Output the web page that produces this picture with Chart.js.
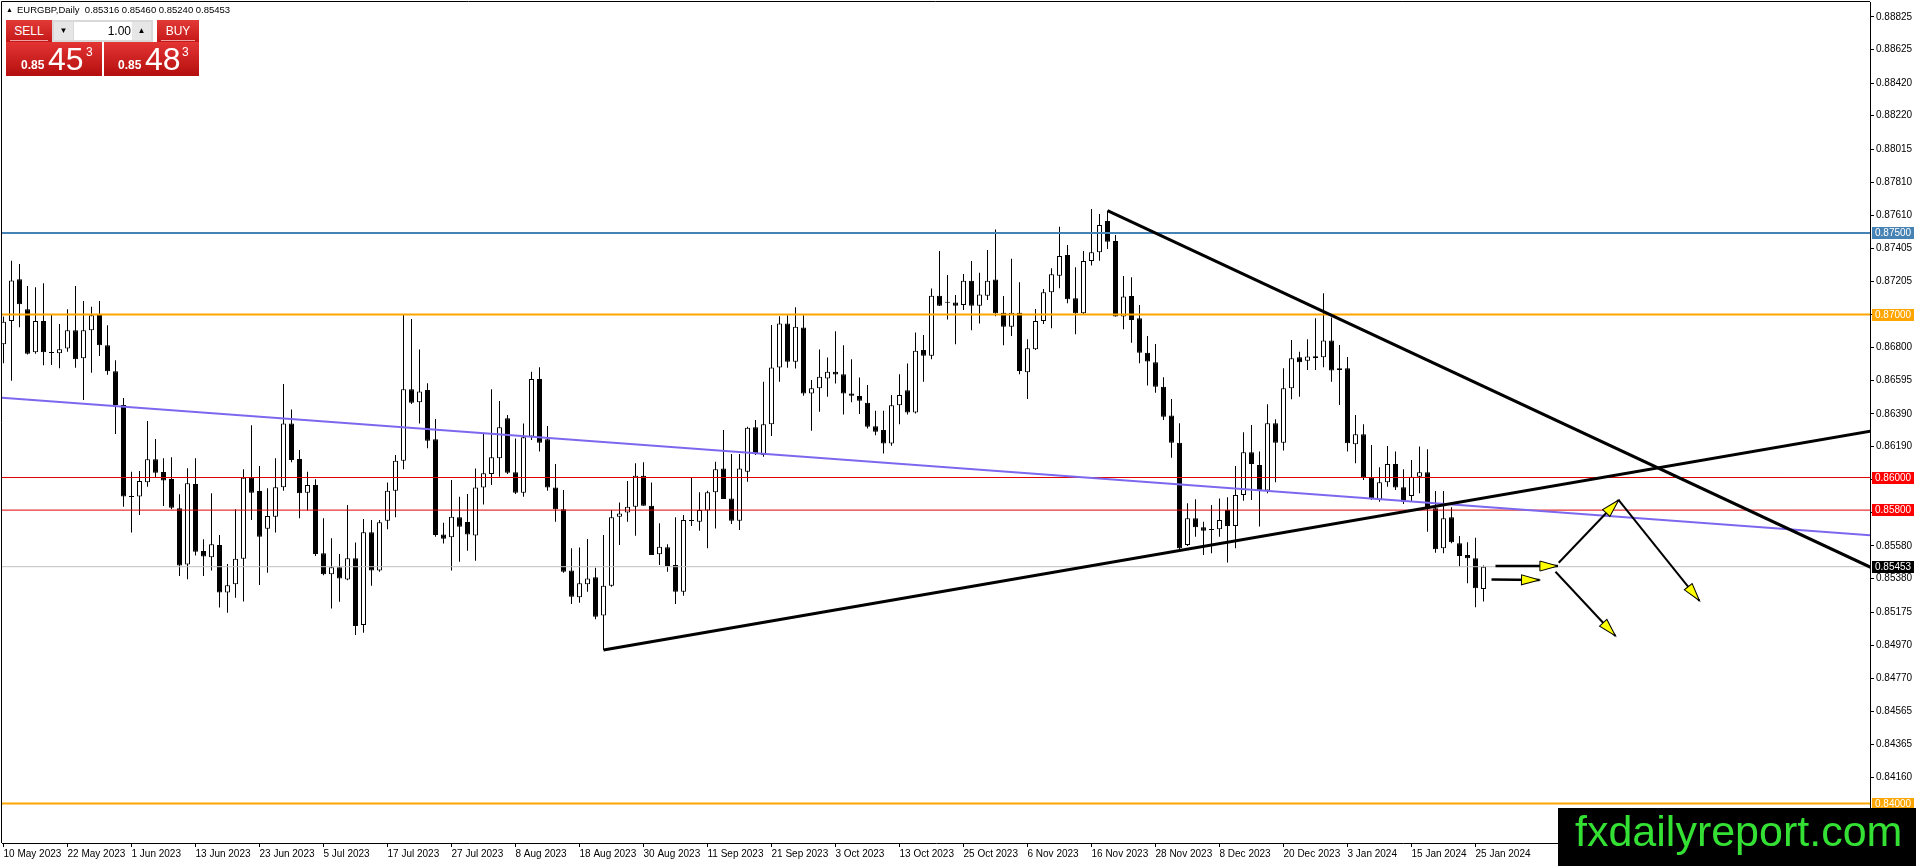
<!DOCTYPE html>
<html>
<head>
<meta charset="utf-8">
<script src="https://cdn.jsdelivr.net/npm/chart.js@4.4.1/dist/chart.umd.min.js"></script>
<style>
html, body { margin: 0; padding: 0; background: #fff; overflow: hidden; }
#wrap { position: relative; width: 1916px; height: 866px; font-family: "Liberation Sans", Arial, sans-serif; }
#chart { position: absolute; left: 0; top: 0; }
.abs { position: absolute; white-space: nowrap; }
#title { left: 6px; top: 4px; font-size: 9.5px; color: #000; line-height: 12px; }
#title .tri { font-size: 7px; margin-right: 4px; vertical-align: 1px; }
.btn { background: linear-gradient(#e23a36, #c41818); color: #fff; font-size: 12px; text-align: center; line-height: 22px; height: 22px; top: 20px; }
.btn:after { content: ""; position: absolute; left: 4px; right: 4px; bottom: 1px; height: 1px; background: rgba(255,220,220,0.7); }
.pricebox { top: 42px; height: 34px; background: linear-gradient(#e43434, #b40e0e); }
.px { color: #fff; }
.small { font-size: 12px; font-weight: bold; line-height: 12px; }
.big { font-size: 32px; line-height: 32px; }
.sup { font-size: 12px; line-height: 12px; }
#lot { left: 52px; top: 20px; width: 101px; height: 22px; background: #d9d9d9; }
#lot .b { position: absolute; top: 2px; width: 19px; height: 18px; background: #e6e6e6; font-size: 8px; line-height: 18px; text-align: center; color: #000; }
#lot .f { position: absolute; left: 22px; top: 2px; width: 57px; height: 18px; background: #fff; font-size: 12px; line-height: 18px; text-align: right; padding-right: 2px; color: #000; }
#wm { left: 1558px; top: 808px; width: 341px; height: 58px; background: #000; color: #33e033; font-size: 43px; line-height: 46px; padding-left: 17px; }
</style>
</head>
<body>
<div id="wrap">
  <canvas id="chart" width="1916" height="866"></canvas>
  <div id="title" class="abs"><span class="tri">▲</span>EURGBP,Daily&nbsp; 0.85316 0.85460 0.85240 0.85453</div>
  <div class="abs btn" style="left:6px;width:46px;">SELL</div>
  <div id="lot" class="abs"><div class="b" style="left:2px;">▼</div><div class="f">1.00</div><div class="b" style="left:80px;">▲</div></div>
  <div class="abs btn" style="left:157px;width:42px;">BUY</div>
  <div class="abs pricebox" style="left:6px;width:96px;"></div>
  <div class="abs pricebox" style="left:104px;width:95px;"></div>
  <div class="abs px small" style="left:21px;top:59px;">0.85</div>
  <div class="abs px big" style="left:48px;top:43px;">45</div>
  <div class="abs px sup" style="left:86px;top:46px;">3</div>
  <div class="abs px small" style="left:118px;top:59px;">0.85</div>
  <div class="abs px big" style="left:145px;top:43px;">48</div>
  <div class="abs px sup" style="left:182px;top:46px;">3</div>
  <div id="wm" class="abs">fxdailyreport.com</div>
</div>
<script>
// EURGBP daily candles, bar 0 = 10 May 2023 ... bar 185 = 26 Jan 2024
const opens = [
  0.86817, 0.86960, 0.87216, 0.87032, 0.86768, 0.86960, 0.86768, 0.86762, 0.86791, 0.86903,
  0.86731, 0.86903, 0.86997, 0.86811, 0.86652, 0.86445, 0.85885, 0.85883, 0.85971, 0.86112,
  0.86034, 0.85991, 0.85811, 0.85467, 0.85960, 0.85549, 0.85511, 0.85586, 0.85294, 0.85345,
  0.85502, 0.85999, 0.85917, 0.85686, 0.85760, 0.85940, 0.86332, 0.86114, 0.85907, 0.85954,
  0.85535, 0.85406, 0.85449, 0.85375, 0.85504, 0.85095, 0.85664, 0.85429, 0.85735, 0.85919,
  0.86103, 0.86541, 0.86461, 0.86537, 0.86234, 0.85651, 0.85633, 0.85756, 0.85727, 0.85645,
  0.85938, 0.86022, 0.86118, 0.86363, 0.86032, 0.85907, 0.86251, 0.86604, 0.86234, 0.85938,
  0.85805, 0.85429, 0.85265, 0.85345, 0.85388, 0.85154, 0.85336, 0.85760, 0.85786, 0.85821,
  0.86011, 0.85827, 0.85529, 0.85572, 0.85463, 0.85300, 0.85737, 0.85729, 0.85797, 0.85909,
  0.86056, 0.85872, 0.85735, 0.86036, 0.86308, 0.86138, 0.86326, 0.86675, 0.86945, 0.86710,
  0.86921, 0.86516, 0.86547, 0.86608, 0.86649, 0.86634, 0.86516, 0.86500, 0.86459, 0.86315,
  0.86291, 0.86209, 0.86444, 0.86536, 0.86399, 0.86782, 0.86747, 0.87115, 0.87076, 0.87074,
  0.87058, 0.87207, 0.87054, 0.87115, 0.87215, 0.87011, 0.86925, 0.87011, 0.86645, 0.86787,
  0.86960, 0.87136, 0.87238, 0.87365, 0.87099, 0.87007, 0.87328, 0.87382, 0.87574, 0.87451,
  0.86987, 0.87114, 0.86977, 0.86766, 0.86707, 0.86557, 0.86380, 0.86214, 0.85586, 0.85750,
  0.85695, 0.85682, 0.85682, 0.85801, 0.85703, 0.85893, 0.86155, 0.86077, 0.85920, 0.86333,
  0.86214, 0.86547, 0.86738, 0.86717, 0.86744, 0.86738, 0.86840, 0.86660, 0.86670, 0.86204,
  0.86265, 0.85999, 0.85862, 0.85971, 0.86083, 0.85940, 0.85887, 0.86005, 0.86032, 0.85811,
  0.85566, 0.85756, 0.85597, 0.85525, 0.85504, 0.85316
];
const highs = [
  0.86987, 0.87329, 0.87310, 0.87175, 0.87167, 0.87192, 0.86997, 0.86942, 0.87032, 0.87175,
  0.87083, 0.87048, 0.87083, 0.86934, 0.86719, 0.86488, 0.86036, 0.86040, 0.86347, 0.86237,
  0.86118, 0.86124, 0.85897, 0.86057, 0.86118, 0.85621, 0.85903, 0.85648, 0.85470, 0.85805,
  0.86050, 0.86320, 0.86071, 0.85934, 0.86118, 0.86574, 0.86418, 0.86169, 0.86036, 0.85989,
  0.85750, 0.85627, 0.85531, 0.85831, 0.85602, 0.85745, 0.85739, 0.85739, 0.85970, 0.86138,
  0.86997, 0.86972, 0.86786, 0.86578, 0.86359, 0.85723, 0.85985, 0.85882, 0.85899, 0.86056,
  0.86267, 0.86541, 0.86469, 0.86383, 0.86240, 0.86332, 0.86649, 0.86676, 0.86316, 0.86083,
  0.85923, 0.85566, 0.85570, 0.85623, 0.85447, 0.85647, 0.85801, 0.85846, 0.85979, 0.86087,
  0.86093, 0.85970, 0.85719, 0.85590, 0.85756, 0.85770, 0.85999, 0.85909, 0.85919, 0.86097,
  0.86291, 0.86144, 0.86144, 0.86312, 0.86353, 0.86588, 0.86935, 0.86990, 0.86996, 0.87044,
  0.86996, 0.86598, 0.86786, 0.86737, 0.86898, 0.86812, 0.86725, 0.86614, 0.86567, 0.86410,
  0.86410, 0.86506, 0.86634, 0.86700, 0.86890, 0.86874, 0.87160, 0.87389, 0.87242, 0.87119,
  0.87248, 0.87328, 0.87256, 0.87395, 0.87522, 0.87113, 0.87342, 0.87198, 0.86848, 0.87034,
  0.87157, 0.87283, 0.87539, 0.87427, 0.87290, 0.87390, 0.87647, 0.87617, 0.87637, 0.87488,
  0.87236, 0.87228, 0.87058, 0.86868, 0.86819, 0.86615, 0.86482, 0.86333, 0.85842, 0.85866,
  0.85729, 0.85832, 0.85872, 0.85879, 0.86071, 0.86277, 0.86322, 0.86159, 0.86449, 0.86357,
  0.86670, 0.86844, 0.86772, 0.86848, 0.86977, 0.87130, 0.86981, 0.86813, 0.86740, 0.86384,
  0.86327, 0.86200, 0.86063, 0.86194, 0.86159, 0.86050, 0.86108, 0.86190, 0.86173, 0.85917,
  0.85917, 0.85817, 0.85641, 0.85603, 0.85631, 0.85460
];
const lows = [
  0.86701, 0.86594, 0.86922, 0.86754, 0.86760, 0.86688, 0.86690, 0.86670, 0.86772, 0.86674,
  0.86476, 0.86643, 0.86746, 0.86631, 0.86267, 0.85821, 0.85662, 0.85770, 0.85944, 0.85999,
  0.85825, 0.85805, 0.85396, 0.85376, 0.85521, 0.85396, 0.85429, 0.85202, 0.85171, 0.85263,
  0.85239, 0.85739, 0.85341, 0.85416, 0.85662, 0.85919, 0.86093, 0.85750, 0.85797, 0.85518,
  0.85400, 0.85197, 0.85238, 0.85370, 0.85034, 0.85048, 0.85336, 0.85422, 0.85682, 0.85756,
  0.86050, 0.86451, 0.86332, 0.86179, 0.85637, 0.85596, 0.85429, 0.85484, 0.85551, 0.85490,
  0.85835, 0.85954, 0.86005, 0.86022, 0.85899, 0.85882, 0.86230, 0.86159, 0.85919, 0.85729,
  0.85416, 0.85224, 0.85232, 0.85300, 0.85130, 0.84942, 0.85330, 0.85586, 0.85729, 0.85643,
  0.85827, 0.85525, 0.85463, 0.85422, 0.85224, 0.85275, 0.85702, 0.85674, 0.85566, 0.85688,
  0.85868, 0.85715, 0.85678, 0.85974, 0.86138, 0.86127, 0.86254, 0.86588, 0.86673, 0.86669,
  0.86502, 0.86287, 0.86403, 0.86495, 0.86577, 0.86387, 0.86461, 0.86389, 0.86301, 0.86260,
  0.86148, 0.86195, 0.86326, 0.86387, 0.86393, 0.86588, 0.86725, 0.87052, 0.86970, 0.86817,
  0.87027, 0.86904, 0.86945, 0.87089, 0.86990, 0.86812, 0.86868, 0.86633, 0.86482, 0.86782,
  0.86942, 0.86915, 0.87161, 0.87069, 0.86879, 0.87003, 0.87300, 0.87330, 0.87402, 0.86987,
  0.86909, 0.86827, 0.86701, 0.86564, 0.86520, 0.86353, 0.86122, 0.85560, 0.85580, 0.85637,
  0.85525, 0.85535, 0.85637, 0.85478, 0.85566, 0.85858, 0.85862, 0.85699, 0.85903, 0.85971,
  0.86165, 0.86480, 0.86496, 0.86660, 0.86660, 0.86676, 0.86588, 0.86445, 0.86159, 0.86087,
  0.85985, 0.85862, 0.85852, 0.85944, 0.85924, 0.85838, 0.85852, 0.85903, 0.85668, 0.85539,
  0.85535, 0.85597, 0.85453, 0.85351, 0.85204, 0.85240
];
const closes = [
  0.86956, 0.87208, 0.87063, 0.86760, 0.86960, 0.86768, 0.86764, 0.86787, 0.86903, 0.86725,
  0.86903, 0.86995, 0.86811, 0.86652, 0.86445, 0.85883, 0.85881, 0.85979, 0.86112, 0.86030,
  0.85981, 0.85815, 0.85461, 0.85965, 0.85545, 0.85515, 0.85590, 0.85294, 0.85339, 0.85502,
  0.85999, 0.85907, 0.85637, 0.85764, 0.85940, 0.86332, 0.86107, 0.85903, 0.85954, 0.85531,
  0.85406, 0.85449, 0.85381, 0.85504, 0.85089, 0.85664, 0.85429, 0.85725, 0.85919, 0.86103,
  0.86541, 0.86459, 0.86527, 0.86226, 0.85647, 0.85625, 0.85760, 0.85698, 0.85651, 0.85938,
  0.86026, 0.86124, 0.86308, 0.86030, 0.85907, 0.86247, 0.86604, 0.86214, 0.85938, 0.85805,
  0.85422, 0.85269, 0.85351, 0.85381, 0.85146, 0.85336, 0.85756, 0.85780, 0.85821, 0.86011,
  0.85827, 0.85525, 0.85576, 0.85457, 0.85300, 0.85739, 0.85733, 0.85801, 0.85909, 0.86050,
  0.85868, 0.85735, 0.86056, 0.86306, 0.86148, 0.86326, 0.86675, 0.86945, 0.86710, 0.86925,
  0.86516, 0.86547, 0.86618, 0.86649, 0.86632, 0.86516, 0.86502, 0.86471, 0.86311, 0.86281,
  0.86209, 0.86444, 0.86506, 0.86399, 0.86778, 0.86747, 0.87115, 0.87054, 0.87072, 0.87054,
  0.87207, 0.87054, 0.87123, 0.87207, 0.87007, 0.86925, 0.87011, 0.86654, 0.86793, 0.86960,
  0.87136, 0.87247, 0.87359, 0.87093, 0.87007, 0.87328, 0.87382, 0.87549, 0.87447, 0.86987,
  0.87110, 0.86966, 0.86766, 0.86711, 0.86557, 0.86373, 0.86214, 0.85566, 0.85750, 0.85695,
  0.85674, 0.85678, 0.85740, 0.85703, 0.85893, 0.86155, 0.86083, 0.85920, 0.86333, 0.86214,
  0.86547, 0.86731, 0.86707, 0.86742, 0.86731, 0.86840, 0.86656, 0.86670, 0.86210, 0.86265,
  0.85999, 0.85873, 0.85971, 0.86083, 0.85938, 0.85852, 0.86005, 0.86032, 0.85811, 0.85560,
  0.85750, 0.85603, 0.85519, 0.85504, 0.85320, 0.85453
];

// time axis labels, one every 8 bars
const dateLabels = [
  '10 May 2023', '22 May 2023', '1 Jun 2023', '13 Jun 2023', '23 Jun 2023', '5 Jul 2023',
  '17 Jul 2023', '27 Jul 2023', '8 Aug 2023', '18 Aug 2023', '30 Aug 2023', '11 Sep 2023',
  '21 Sep 2023', '3 Oct 2023', '13 Oct 2023', '25 Oct 2023', '6 Nov 2023', '16 Nov 2023',
  '28 Nov 2023', '8 Dec 2023', '20 Dec 2023', '3 Jan 2024', '15 Jan 2024', '25 Jan 2024'
];
const labelStep = 8;

// price axis labels
const yTicks = [
  0.88825, 0.88625, 0.88420, 0.88220, 0.88015, 0.87810, 0.87610, 0.87405, 0.87205, 0.87000,
  0.86800, 0.86595, 0.86390, 0.86190, 0.85985, 0.85785, 0.85580, 0.85380, 0.85175, 0.84970,
  0.84770, 0.84565, 0.84365, 0.84160
];

// horizontal levels and their colours
const levelValues = [0.87500, 0.87000, 0.86000, 0.85800, 0.85453, 0.84000];
const levelColors = ['#4682b4', '#ffa500', '#ff0000', '#ff0000', '#000000', '#ffa500'];
const levelLineColors = ['#4682b4', '#ffa500', '#e00000', '#e00000', '#c0c0c0', '#ffa500'];
const levelWidths = [2, 2, 1, 1, 1, 2];

// drawn lines: [bar, price] pairs
const trendDown = [[138, 0.87637], [233.4, 0.85449]];
const trendUp = [[75, 0.84942], [233.4, 0.86284]];
const channelLine = [[-0.2, 0.86490], [233.4, 0.85645]];
const arrows = [
  [[186.5, 0.85457], [194.3, 0.85457]],
  [[186.0, 0.85375], [192.0, 0.85371]],
  [[194.4, 0.85477], [201.9, 0.85862]],
  [[201.9, 0.85862], [212.0, 0.85244]],
  [[194.0, 0.85422], [201.5, 0.85028]]
];

const xMin = -0.1875, xMax = 233.3125;
const yMin = 0.83758, yMax = 0.88917;

const toPts = arr => arr.map(p => ({x: p[0], y: p[1]}));
const bars = opens.map((_, i) => i);
const datasets = [];

arrows.forEach((a, k) => {
  datasets.push({type: 'line', data: toPts(a), borderColor: '#000', borderWidth: k < 2 ? 2.5 : 2,
    pointRadius: 0, arrow: true, order: 0});
});
[trendDown, trendUp].forEach(t => {
  datasets.push({type: 'line', data: toPts(t), borderColor: '#000', borderWidth: 3, pointRadius: 0, order: 0});
});
datasets.push({type: 'line', data: toPts(channelLine), borderColor: '#7b68ee', borderWidth: 2, pointRadius: 0, order: 1});
levelValues.forEach((v, i) => {
  datasets.push({type: 'line', data: [{x: xMin, y: v}, {x: xMax, y: v}], borderColor: levelLineColors[i],
    borderWidth: levelWidths[i], pointRadius: 0, order: 1});
});
datasets.push({
  type: 'bar', data: bars.map(i => ({x: i, y: [opens[i], closes[i]]})),
  backgroundColor: bars.map(i => closes[i] >= opens[i] ? '#ffffff' : '#000000'),
  borderColor: '#000', borderWidth: 1, borderSkipped: false, barThickness: 5,
  minBarLength: 1, grouped: false, inflateAmount: 0, order: 2
});
datasets.push({
  type: 'bar', data: bars.map(i => ({x: i, y: [lows[i], highs[i]]})),
  backgroundColor: '#000', borderWidth: 0, barThickness: 1, grouped: false, inflateAmount: 0, order: 3
});

const overlay = {
  id: 'overlay',
  afterDatasetsDraw(chart) {
    const ctx = chart.ctx;
    chart.data.datasets.forEach((ds, i) => {
      if (!ds.arrow) return;
      const pts = chart.getDatasetMeta(i).data;
      const a = pts[pts.length - 2], b = pts[pts.length - 1];
      const ang = Math.atan2(b.y - a.y, b.x - a.x);
      ctx.save();
      ctx.translate(b.x, b.y);
      ctx.rotate(ang);
      ctx.beginPath();
      ctx.moveTo(0, 0);
      ctx.lineTo(-18, -5);
      ctx.lineTo(-18, 5);
      ctx.closePath();
      ctx.fillStyle = '#ffff00';
      ctx.fill();
      ctx.lineWidth = 1;
      ctx.strokeStyle = '#000';
      ctx.stroke();
      ctx.restore();
    });
  },
  afterDraw(chart) {
    const {ctx, chartArea: ca} = chart;
    const y = chart.scales.y;
    ctx.save();
    ctx.strokeStyle = '#000';
    ctx.lineWidth = 1;
    ctx.beginPath();
    ctx.moveTo(ca.left - 0.5, ca.bottom);
    ctx.lineTo(ca.left - 0.5, ca.top - 0.5);
    ctx.lineTo(ca.right, ca.top - 0.5);
    ctx.stroke();
    ctx.font = '10px "Liberation Sans", Arial, sans-serif';
    ctx.textBaseline = 'middle';
    levelValues.forEach((v, i) => {
      const py = Math.round(y.getPixelForValue(v));
      ctx.fillStyle = levelColors[i];
      ctx.fillRect(ca.right + 2, py - 6, 42, 12);
      ctx.fillStyle = '#fff';
      ctx.fillText(v.toFixed(5), ca.right + 5, py + 0.5);
    });
    ctx.restore();
  }
};

new Chart(document.getElementById('chart'), {
  type: 'bar',
  data: {datasets: datasets},
  options: {
    responsive: false,
    animation: false,
    devicePixelRatio: 1,
    events: [],
    layout: {padding: {left: 2, top: 2, right: 0, bottom: 0}},
    plugins: {legend: {display: false}, tooltip: {enabled: false}},
    scales: {
      x: {
        type: 'linear', min: xMin, max: xMax, offset: false, position: 'bottom',
        afterBuildTicks: s => { s.ticks = dateLabels.map((_, k) => ({value: k * labelStep})); },
        afterFit: s => { s.height = 23; s.paddingLeft = 0; s.paddingRight = 0; },
        ticks: {
          autoSkip: false, maxRotation: 0, align: 'start', padding: 1, color: '#000',
          font: {family: '"Liberation Sans", Arial, sans-serif', size: 10},
          callback: v => dateLabels[Math.round(v / labelStep)]
        },
        grid: {drawOnChartArea: false, drawTicks: true, tickLength: 4, color: '#000', offset: false},
        border: {display: true, color: '#000', width: 1}
      },
      y: {
        type: 'linear', position: 'right', min: yMin, max: yMax, beginAtZero: false,
        afterBuildTicks: s => { s.ticks = yTicks.map(v => ({value: v})); },
        afterFit: s => { s.width = 46; s.paddingTop = 0; s.paddingBottom = 0; },
        ticks: {
          autoSkip: false, padding: 2, color: '#000',
          font: {family: '"Liberation Sans", Arial, sans-serif', size: 10},
          callback: v => v.toFixed(5)
        },
        grid: {drawOnChartArea: false, drawTicks: true, tickLength: 4, color: '#000'},
        border: {display: true, color: '#000', width: 1}
      }
    }
  },
  plugins: [overlay]
});
</script>
</body>
</html>
